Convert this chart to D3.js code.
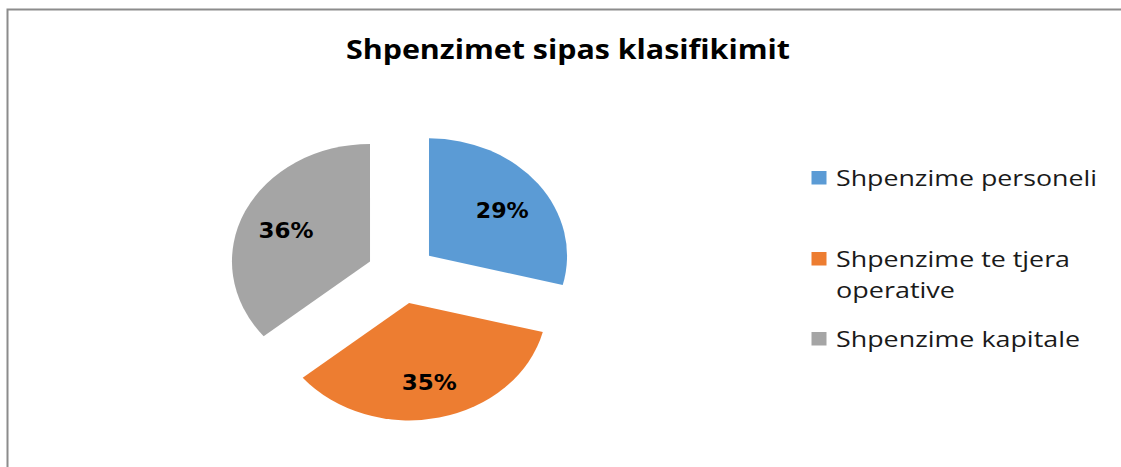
<!DOCTYPE html>
<html>
<head>
<meta charset="utf-8">
<script src="https://cdn.jsdelivr.net/npm/d3@7"></script>
<style>
  html, body { margin: 0; padding: 0; background: #fff; }
  svg { display: block; }
</style>
</head>
<body>
<svg id="chart" width="1121" height="467"></svg>
<script>
const title = "Shpenzimet sipas klasifikimit";
const categories = ["Shpenzime personeli", "Shpenzime te tjera operative", "Shpenzime kapitale"];
const legendLines = [["Shpenzime personeli"], ["Shpenzime te tjera", "operative"], ["Shpenzime kapitale"]];
const values = [29, 35, 36];
const labels = ["29%", "35%", "36%"];
const colors = ["#5B9BD5", "#ED7D31", "#A5A5A5"];

const svg = d3.select("#chart");
const W = 1121, H = 467;

// chart frame (cropped: left + top visible)
svg.append("path")
  .attr("d", `M7.5,${H} L7.5,9.5 L${W},9.5`)
  .attr("fill", "none")
  .attr("stroke", "#8c8c8c")
  .attr("stroke-width", 2);

// title
svg.append("text")
  .attr("x", 346).attr("y", 59)
  .attr("font-family", "'Open Sans', sans-serif")
  .attr("font-weight", "bold")
  .attr("font-size", 26)
  .attr("fill", "#000")
  .attr("textLength", 444)
  .attr("lengthAdjust", "spacingAndGlyphs")
  .text(title);

// pie
const cx = 401.5, cy = 274, sx = 1.175, R = 117.5, explode = 29.6, labelR = 79;
const pie = d3.pie().sort(null).value(d => d)(values);
const arc = d3.arc().innerRadius(0).outerRadius(R);
const labelArc = d3.arc().innerRadius(labelR).outerRadius(labelR);

const off = d => {
  const m = (d.startAngle + d.endAngle) / 2;
  return [Math.sin(m) * explode, -Math.cos(m) * explode];
};

const g = svg.append("g").attr("transform", `translate(${cx},${cy}) scale(${sx},1)`);
g.selectAll("path.slice").data(pie).join("path")
  .attr("class", "slice")
  .attr("transform", d => `translate(${off(d)[0]},${off(d)[1]})`)
  .attr("d", arc)
  .attr("fill", (d, i) => colors[i]);

const labelWidths = [53, 55, 55];
svg.selectAll("text.lbl").data(pie).join("text")
  .attr("class", "lbl")
  .attr("x", d => cx + (labelArc.centroid(d)[0] + off(d)[0]) * sx)
  .attr("y", d => cy + labelArc.centroid(d)[1] + off(d)[1])
  .attr("dy", "0.5em")
  .attr("text-anchor", "middle")
  .attr("font-family", "'DejaVu Sans', sans-serif")
  .attr("font-weight", "bold")
  .attr("font-size", 20.5)
  .attr("fill", "#000")
  .attr("textLength", (d, i) => labelWidths[i])
  .attr("lengthAdjust", "spacingAndGlyphs")
  .text((d, i) => labels[i]);

// legend
const legendY = [186, 267, 347];
const lineWidths = [[261], [234, 119], [244]];
const lg = svg.append("g");
categories.forEach((c, i) => {
  const item = lg.append("g");
  item.append("rect")
    .attr("x", 811.5).attr("y", legendY[i] - 15)
    .attr("width", 15).attr("height", 13.5)
    .attr("fill", colors[i]);
  legendLines[i].forEach((ln, j) => {
    item.append("text")
      .attr("x", 836).attr("y", legendY[i] + j * 31)
      .attr("font-family", "'Open Sans', sans-serif")
      .attr("font-size", 21)
      .attr("fill", "#1a1a1a")
      .attr("textLength", lineWidths[i][j])
      .attr("lengthAdjust", "spacingAndGlyphs")
      .text(ln);
  });
});
</script>
</body>
</html>
